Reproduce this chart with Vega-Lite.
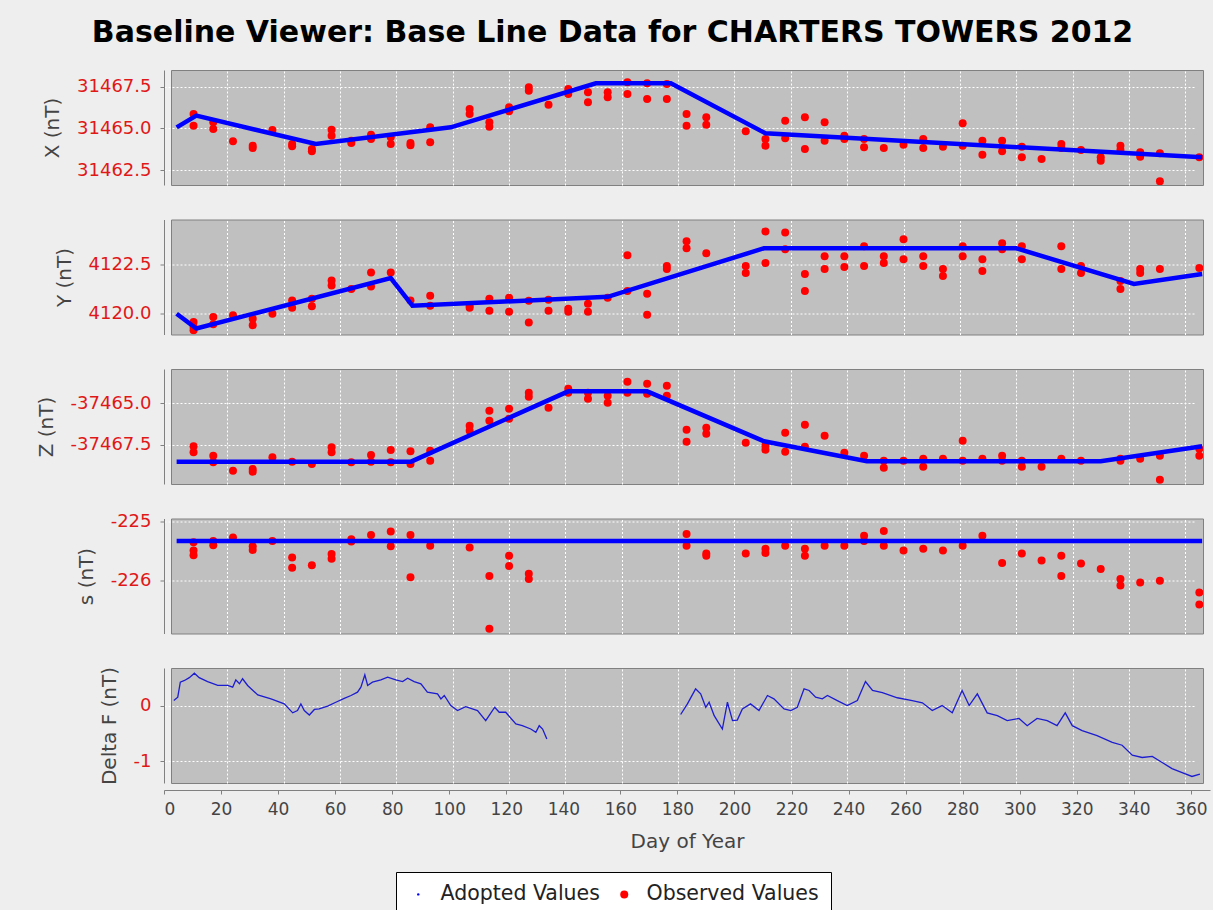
{
  "$schema": "https://vega.github.io/schema/vega-lite/v6.json",
  "padding": {"left": 35, "top": 17, "right": 10, "bottom": 0},
  "title": {"text": "Baseline Viewer: Base Line Data for CHARTERS TOWERS 2012", "fontSize": 30, "font": "DejaVu Sans", "fontWeight": "bold", "color": "#000000", "anchor": "middle", "offset": 22, "dx": -14},
  "spacing": 34.5,
  "bounds": "flush",
  "datasets": {
    "obs": [
      {"c":"X","d":8,"v":31465.86,"s":"Observed Values"},{"c":"X","d":8,"v":31465.16,"s":"Observed Values"},
      {"c":"X","d":15,"v":31465.36,"s":"Observed Values"},{"c":"X","d":15,"v":31464.96,"s":"Observed Values"},
      {"c":"X","d":22,"v":31464.22,"s":"Observed Values"},
      {"c":"X","d":29,"v":31463.96,"s":"Observed Values"},{"c":"X","d":29,"v":31463.82,"s":"Observed Values"},
      {"c":"X","d":36,"v":31464.9,"s":"Observed Values"},
      {"c":"X","d":43,"v":31464.06,"s":"Observed Values"},{"c":"X","d":43,"v":31463.92,"s":"Observed Values"},
      {"c":"X","d":50,"v":31463.76,"s":"Observed Values"},{"c":"X","d":50,"v":31463.62,"s":"Observed Values"},
      {"c":"X","d":57,"v":31464.92,"s":"Observed Values"},{"c":"X","d":57,"v":31464.56,"s":"Observed Values"},
      {"c":"X","d":64,"v":31464.26,"s":"Observed Values"},{"c":"X","d":64,"v":31464.12,"s":"Observed Values"},
      {"c":"X","d":71,"v":31464.62,"s":"Observed Values"},{"c":"X","d":71,"v":31464.36,"s":"Observed Values"},
      {"c":"X","d":78,"v":31464.46,"s":"Observed Values"},{"c":"X","d":78,"v":31464.06,"s":"Observed Values"},
      {"c":"X","d":85,"v":31464.12,"s":"Observed Values"},{"c":"X","d":85,"v":31463.98,"s":"Observed Values"},
      {"c":"X","d":92,"v":31465.06,"s":"Observed Values"},{"c":"X","d":92,"v":31464.16,"s":"Observed Values"},
      {"c":"X","d":106,"v":31466.16,"s":"Observed Values"},{"c":"X","d":106,"v":31465.86,"s":"Observed Values"},
      {"c":"X","d":113,"v":31465.36,"s":"Observed Values"},{"c":"X","d":113,"v":31465.1,"s":"Observed Values"},
      {"c":"X","d":120,"v":31466.26,"s":"Observed Values"},{"c":"X","d":120,"v":31466.02,"s":"Observed Values"},
      {"c":"X","d":127,"v":31467.46,"s":"Observed Values"},{"c":"X","d":127,"v":31467.26,"s":"Observed Values"},
      {"c":"X","d":134,"v":31466.42,"s":"Observed Values"},
      {"c":"X","d":141,"v":31467.36,"s":"Observed Values"},{"c":"X","d":141,"v":31467.06,"s":"Observed Values"},
      {"c":"X","d":148,"v":31467.16,"s":"Observed Values"},{"c":"X","d":148,"v":31466.56,"s":"Observed Values"},
      {"c":"X","d":155,"v":31467.16,"s":"Observed Values"},{"c":"X","d":155,"v":31466.86,"s":"Observed Values"},
      {"c":"X","d":162,"v":31467.76,"s":"Observed Values"},{"c":"X","d":162,"v":31467.06,"s":"Observed Values"},
      {"c":"X","d":169,"v":31467.7,"s":"Observed Values"},{"c":"X","d":169,"v":31466.76,"s":"Observed Values"},
      {"c":"X","d":176,"v":31467.66,"s":"Observed Values"},{"c":"X","d":176,"v":31466.76,"s":"Observed Values"},
      {"c":"X","d":183,"v":31465.86,"s":"Observed Values"},{"c":"X","d":183,"v":31465.16,"s":"Observed Values"},
      {"c":"X","d":190,"v":31465.66,"s":"Observed Values"},{"c":"X","d":190,"v":31465.22,"s":"Observed Values"},
      {"c":"X","d":204,"v":31464.82,"s":"Observed Values"},
      {"c":"X","d":211,"v":31464.36,"s":"Observed Values"},{"c":"X","d":211,"v":31463.96,"s":"Observed Values"},
      {"c":"X","d":218,"v":31465.46,"s":"Observed Values"},{"c":"X","d":218,"v":31464.4,"s":"Observed Values"},
      {"c":"X","d":225,"v":31465.66,"s":"Observed Values"},{"c":"X","d":225,"v":31463.76,"s":"Observed Values"},
      {"c":"X","d":232,"v":31465.36,"s":"Observed Values"},{"c":"X","d":232,"v":31464.26,"s":"Observed Values"},
      {"c":"X","d":239,"v":31464.56,"s":"Observed Values"},{"c":"X","d":239,"v":31464.36,"s":"Observed Values"},
      {"c":"X","d":246,"v":31464.36,"s":"Observed Values"},{"c":"X","d":246,"v":31463.86,"s":"Observed Values"},
      {"c":"X","d":253,"v":31463.82,"s":"Observed Values"},
      {"c":"X","d":260,"v":31464.02,"s":"Observed Values"},
      {"c":"X","d":267,"v":31464.36,"s":"Observed Values"},{"c":"X","d":267,"v":31463.82,"s":"Observed Values"},
      {"c":"X","d":274,"v":31463.9,"s":"Observed Values"},
      {"c":"X","d":281,"v":31465.3,"s":"Observed Values"},{"c":"X","d":281,"v":31463.96,"s":"Observed Values"},
      {"c":"X","d":288,"v":31464.26,"s":"Observed Values"},{"c":"X","d":288,"v":31463.42,"s":"Observed Values"},
      {"c":"X","d":295,"v":31464.26,"s":"Observed Values"},{"c":"X","d":295,"v":31463.62,"s":"Observed Values"},
      {"c":"X","d":302,"v":31463.9,"s":"Observed Values"},{"c":"X","d":302,"v":31463.26,"s":"Observed Values"},
      {"c":"X","d":309,"v":31463.16,"s":"Observed Values"},
      {"c":"X","d":316,"v":31464.06,"s":"Observed Values"},{"c":"X","d":316,"v":31463.82,"s":"Observed Values"},
      {"c":"X","d":323,"v":31463.7,"s":"Observed Values"},
      {"c":"X","d":330,"v":31463.26,"s":"Observed Values"},{"c":"X","d":330,"v":31463.06,"s":"Observed Values"},
      {"c":"X","d":337,"v":31463.96,"s":"Observed Values"},{"c":"X","d":337,"v":31463.7,"s":"Observed Values"},
      {"c":"X","d":344,"v":31463.56,"s":"Observed Values"},{"c":"X","d":344,"v":31463.3,"s":"Observed Values"},
      {"c":"X","d":351,"v":31463.5,"s":"Observed Values"},{"c":"X","d":351,"v":31461.82,"s":"Observed Values"},
      {"c":"X","d":365,"v":31463.26,"s":"Observed Values"},

      {"c":"Y","d":8,"v":4119.58,"s":"Observed Values"},{"c":"Y","d":8,"v":4119.33,"s":"Observed Values"},{"c":"Y","d":8,"v":4119.17,"s":"Observed Values"},
      {"c":"Y","d":15,"v":4119.83,"s":"Observed Values"},{"c":"Y","d":15,"v":4119.47,"s":"Observed Values"},
      {"c":"Y","d":22,"v":4119.92,"s":"Observed Values"},
      {"c":"Y","d":29,"v":4119.75,"s":"Observed Values"},{"c":"Y","d":29,"v":4119.42,"s":"Observed Values"},
      {"c":"Y","d":36,"v":4120.0,"s":"Observed Values"},
      {"c":"Y","d":43,"v":4120.67,"s":"Observed Values"},{"c":"Y","d":43,"v":4120.3,"s":"Observed Values"},
      {"c":"Y","d":50,"v":4120.75,"s":"Observed Values"},{"c":"Y","d":50,"v":4120.37,"s":"Observed Values"},
      {"c":"Y","d":57,"v":4121.67,"s":"Observed Values"},{"c":"Y","d":57,"v":4121.42,"s":"Observed Values"},
      {"c":"Y","d":64,"v":4121.25,"s":"Observed Values"},
      {"c":"Y","d":71,"v":4122.08,"s":"Observed Values"},{"c":"Y","d":71,"v":4121.37,"s":"Observed Values"},
      {"c":"Y","d":78,"v":4122.08,"s":"Observed Values"},
      {"c":"Y","d":85,"v":4120.67,"s":"Observed Values"},
      {"c":"Y","d":92,"v":4120.9,"s":"Observed Values"},{"c":"Y","d":92,"v":4120.4,"s":"Observed Values"},
      {"c":"Y","d":106,"v":4120.4,"s":"Observed Values"},{"c":"Y","d":106,"v":4120.3,"s":"Observed Values"},
      {"c":"Y","d":113,"v":4120.75,"s":"Observed Values"},{"c":"Y","d":113,"v":4120.15,"s":"Observed Values"},
      {"c":"Y","d":120,"v":4120.8,"s":"Observed Values"},{"c":"Y","d":120,"v":4120.1,"s":"Observed Values"},
      {"c":"Y","d":127,"v":4120.65,"s":"Observed Values"},{"c":"Y","d":127,"v":4119.55,"s":"Observed Values"},
      {"c":"Y","d":134,"v":4120.7,"s":"Observed Values"},{"c":"Y","d":134,"v":4120.15,"s":"Observed Values"},
      {"c":"Y","d":141,"v":4120.25,"s":"Observed Values"},{"c":"Y","d":141,"v":4120.1,"s":"Observed Values"},
      {"c":"Y","d":148,"v":4120.5,"s":"Observed Values"},{"c":"Y","d":148,"v":4120.1,"s":"Observed Values"},
      {"c":"Y","d":155,"v":4120.8,"s":"Observed Values"},
      {"c":"Y","d":162,"v":4122.95,"s":"Observed Values"},{"c":"Y","d":162,"v":4121.15,"s":"Observed Values"},
      {"c":"Y","d":169,"v":4121.0,"s":"Observed Values"},{"c":"Y","d":169,"v":4119.95,"s":"Observed Values"},
      {"c":"Y","d":176,"v":4122.4,"s":"Observed Values"},{"c":"Y","d":176,"v":4122.25,"s":"Observed Values"},
      {"c":"Y","d":183,"v":4123.65,"s":"Observed Values"},{"c":"Y","d":183,"v":4123.3,"s":"Observed Values"},
      {"c":"Y","d":190,"v":4123.05,"s":"Observed Values"},
      {"c":"Y","d":204,"v":4122.4,"s":"Observed Values"},{"c":"Y","d":204,"v":4122.05,"s":"Observed Values"},
      {"c":"Y","d":211,"v":4124.15,"s":"Observed Values"},{"c":"Y","d":211,"v":4122.55,"s":"Observed Values"},
      {"c":"Y","d":218,"v":4124.1,"s":"Observed Values"},{"c":"Y","d":218,"v":4123.25,"s":"Observed Values"},
      {"c":"Y","d":225,"v":4122.0,"s":"Observed Values"},{"c":"Y","d":225,"v":4121.15,"s":"Observed Values"},
      {"c":"Y","d":232,"v":4122.9,"s":"Observed Values"},{"c":"Y","d":232,"v":4122.25,"s":"Observed Values"},
      {"c":"Y","d":239,"v":4122.9,"s":"Observed Values"},{"c":"Y","d":239,"v":4122.35,"s":"Observed Values"},
      {"c":"Y","d":246,"v":4123.4,"s":"Observed Values"},{"c":"Y","d":246,"v":4122.4,"s":"Observed Values"},
      {"c":"Y","d":253,"v":4122.9,"s":"Observed Values"},{"c":"Y","d":253,"v":4122.55,"s":"Observed Values"},
      {"c":"Y","d":260,"v":4123.75,"s":"Observed Values"},{"c":"Y","d":260,"v":4122.75,"s":"Observed Values"},
      {"c":"Y","d":267,"v":4122.9,"s":"Observed Values"},{"c":"Y","d":267,"v":4122.4,"s":"Observed Values"},
      {"c":"Y","d":274,"v":4122.25,"s":"Observed Values"},{"c":"Y","d":274,"v":4121.9,"s":"Observed Values"},
      {"c":"Y","d":281,"v":4123.4,"s":"Observed Values"},{"c":"Y","d":281,"v":4122.9,"s":"Observed Values"},
      {"c":"Y","d":288,"v":4122.75,"s":"Observed Values"},{"c":"Y","d":288,"v":4122.15,"s":"Observed Values"},
      {"c":"Y","d":295,"v":4123.55,"s":"Observed Values"},{"c":"Y","d":295,"v":4123.25,"s":"Observed Values"},
      {"c":"Y","d":302,"v":4123.4,"s":"Observed Values"},{"c":"Y","d":302,"v":4122.75,"s":"Observed Values"},
      {"c":"Y","d":316,"v":4123.4,"s":"Observed Values"},{"c":"Y","d":316,"v":4122.25,"s":"Observed Values"},
      {"c":"Y","d":323,"v":4122.4,"s":"Observed Values"},{"c":"Y","d":323,"v":4122.05,"s":"Observed Values"},
      {"c":"Y","d":337,"v":4121.65,"s":"Observed Values"},{"c":"Y","d":337,"v":4121.25,"s":"Observed Values"},
      {"c":"Y","d":344,"v":4122.25,"s":"Observed Values"},{"c":"Y","d":344,"v":4122.05,"s":"Observed Values"},
      {"c":"Y","d":351,"v":4122.25,"s":"Observed Values"},
      {"c":"Y","d":365,"v":4122.3,"s":"Observed Values"},

      {"c":"Z","d":8,"v":-37467.6,"s":"Observed Values"},{"c":"Z","d":8,"v":-37467.96,"s":"Observed Values"},
      {"c":"Z","d":15,"v":-37468.16,"s":"Observed Values"},{"c":"Z","d":15,"v":-37468.56,"s":"Observed Values"},
      {"c":"Z","d":22,"v":-37469.06,"s":"Observed Values"},
      {"c":"Z","d":29,"v":-37468.96,"s":"Observed Values"},{"c":"Z","d":29,"v":-37469.12,"s":"Observed Values"},
      {"c":"Z","d":36,"v":-37468.26,"s":"Observed Values"},
      {"c":"Z","d":43,"v":-37468.52,"s":"Observed Values"},
      {"c":"Z","d":50,"v":-37468.66,"s":"Observed Values"},
      {"c":"Z","d":57,"v":-37467.66,"s":"Observed Values"},{"c":"Z","d":57,"v":-37467.96,"s":"Observed Values"},
      {"c":"Z","d":64,"v":-37468.56,"s":"Observed Values"},
      {"c":"Z","d":71,"v":-37468.12,"s":"Observed Values"},{"c":"Z","d":71,"v":-37468.52,"s":"Observed Values"},
      {"c":"Z","d":78,"v":-37467.82,"s":"Observed Values"},{"c":"Z","d":78,"v":-37468.56,"s":"Observed Values"},
      {"c":"Z","d":85,"v":-37467.9,"s":"Observed Values"},{"c":"Z","d":85,"v":-37468.66,"s":"Observed Values"},
      {"c":"Z","d":92,"v":-37467.86,"s":"Observed Values"},{"c":"Z","d":92,"v":-37468.46,"s":"Observed Values"},
      {"c":"Z","d":106,"v":-37466.36,"s":"Observed Values"},{"c":"Z","d":106,"v":-37466.66,"s":"Observed Values"},
      {"c":"Z","d":113,"v":-37465.46,"s":"Observed Values"},{"c":"Z","d":113,"v":-37466.06,"s":"Observed Values"},
      {"c":"Z","d":120,"v":-37465.34,"s":"Observed Values"},{"c":"Z","d":120,"v":-37465.94,"s":"Observed Values"},
      {"c":"Z","d":127,"v":-37464.38,"s":"Observed Values"},{"c":"Z","d":127,"v":-37464.62,"s":"Observed Values"},
      {"c":"Z","d":134,"v":-37465.28,"s":"Observed Values"},
      {"c":"Z","d":141,"v":-37464.14,"s":"Observed Values"},{"c":"Z","d":141,"v":-37464.38,"s":"Observed Values"},
      {"c":"Z","d":148,"v":-37464.38,"s":"Observed Values"},{"c":"Z","d":148,"v":-37464.74,"s":"Observed Values"},
      {"c":"Z","d":155,"v":-37464.56,"s":"Observed Values"},{"c":"Z","d":155,"v":-37464.98,"s":"Observed Values"},
      {"c":"Z","d":162,"v":-37463.72,"s":"Observed Values"},{"c":"Z","d":162,"v":-37464.38,"s":"Observed Values"},
      {"c":"Z","d":169,"v":-37463.84,"s":"Observed Values"},{"c":"Z","d":169,"v":-37464.44,"s":"Observed Values"},
      {"c":"Z","d":176,"v":-37463.96,"s":"Observed Values"},{"c":"Z","d":176,"v":-37464.56,"s":"Observed Values"},
      {"c":"Z","d":183,"v":-37466.6,"s":"Observed Values"},{"c":"Z","d":183,"v":-37467.32,"s":"Observed Values"},
      {"c":"Z","d":190,"v":-37466.48,"s":"Observed Values"},{"c":"Z","d":190,"v":-37466.84,"s":"Observed Values"},
      {"c":"Z","d":204,"v":-37467.38,"s":"Observed Values"},
      {"c":"Z","d":211,"v":-37467.56,"s":"Observed Values"},{"c":"Z","d":211,"v":-37467.8,"s":"Observed Values"},
      {"c":"Z","d":218,"v":-37466.78,"s":"Observed Values"},{"c":"Z","d":218,"v":-37467.92,"s":"Observed Values"},
      {"c":"Z","d":225,"v":-37466.3,"s":"Observed Values"},{"c":"Z","d":225,"v":-37467.62,"s":"Observed Values"},
      {"c":"Z","d":232,"v":-37466.96,"s":"Observed Values"},
      {"c":"Z","d":239,"v":-37467.98,"s":"Observed Values"},
      {"c":"Z","d":246,"v":-37468.16,"s":"Observed Values"},
      {"c":"Z","d":253,"v":-37468.46,"s":"Observed Values"},{"c":"Z","d":253,"v":-37468.88,"s":"Observed Values"},
      {"c":"Z","d":260,"v":-37468.46,"s":"Observed Values"},
      {"c":"Z","d":267,"v":-37468.34,"s":"Observed Values"},{"c":"Z","d":267,"v":-37468.82,"s":"Observed Values"},
      {"c":"Z","d":274,"v":-37468.34,"s":"Observed Values"},
      {"c":"Z","d":281,"v":-37467.26,"s":"Observed Values"},{"c":"Z","d":281,"v":-37468.46,"s":"Observed Values"},
      {"c":"Z","d":288,"v":-37468.34,"s":"Observed Values"},
      {"c":"Z","d":295,"v":-37468.16,"s":"Observed Values"},{"c":"Z","d":295,"v":-37468.46,"s":"Observed Values"},
      {"c":"Z","d":302,"v":-37468.46,"s":"Observed Values"},{"c":"Z","d":302,"v":-37468.82,"s":"Observed Values"},
      {"c":"Z","d":309,"v":-37468.82,"s":"Observed Values"},
      {"c":"Z","d":316,"v":-37468.34,"s":"Observed Values"},
      {"c":"Z","d":323,"v":-37468.46,"s":"Observed Values"},
      {"c":"Z","d":337,"v":-37468.34,"s":"Observed Values"},{"c":"Z","d":337,"v":-37468.46,"s":"Observed Values"},
      {"c":"Z","d":344,"v":-37468.34,"s":"Observed Values"},
      {"c":"Z","d":351,"v":-37468.16,"s":"Observed Values"},{"c":"Z","d":351,"v":-37469.6,"s":"Observed Values"},
      {"c":"Z","d":365,"v":-37467.74,"s":"Observed Values"},{"c":"Z","d":365,"v":-37468.16,"s":"Observed Values"},

      {"c":"S","d":8,"v":-225.35,"s":"Observed Values"},{"c":"S","d":8,"v":-225.49,"s":"Observed Values"},{"c":"S","d":8,"v":-225.57,"s":"Observed Values"},
      {"c":"S","d":15,"v":-225.33,"s":"Observed Values"},{"c":"S","d":15,"v":-225.4,"s":"Observed Values"},
      {"c":"S","d":22,"v":-225.27,"s":"Observed Values"},
      {"c":"S","d":29,"v":-225.42,"s":"Observed Values"},{"c":"S","d":29,"v":-225.48,"s":"Observed Values"},
      {"c":"S","d":36,"v":-225.33,"s":"Observed Values"},
      {"c":"S","d":43,"v":-225.61,"s":"Observed Values"},{"c":"S","d":43,"v":-225.78,"s":"Observed Values"},
      {"c":"S","d":50,"v":-225.74,"s":"Observed Values"},
      {"c":"S","d":57,"v":-225.55,"s":"Observed Values"},{"c":"S","d":57,"v":-225.63,"s":"Observed Values"},
      {"c":"S","d":64,"v":-225.3,"s":"Observed Values"},{"c":"S","d":64,"v":-225.34,"s":"Observed Values"},
      {"c":"S","d":71,"v":-225.23,"s":"Observed Values"},
      {"c":"S","d":78,"v":-225.17,"s":"Observed Values"},{"c":"S","d":78,"v":-225.42,"s":"Observed Values"},
      {"c":"S","d":85,"v":-225.23,"s":"Observed Values"},{"c":"S","d":85,"v":-225.94,"s":"Observed Values"},
      {"c":"S","d":92,"v":-225.41,"s":"Observed Values"},
      {"c":"S","d":106,"v":-225.44,"s":"Observed Values"},
      {"c":"S","d":113,"v":-225.92,"s":"Observed Values"},{"c":"S","d":113,"v":-226.81,"s":"Observed Values"},
      {"c":"S","d":120,"v":-225.58,"s":"Observed Values"},{"c":"S","d":120,"v":-225.75,"s":"Observed Values"},
      {"c":"S","d":127,"v":-225.88,"s":"Observed Values"},{"c":"S","d":127,"v":-225.97,"s":"Observed Values"},
      {"c":"S","d":183,"v":-225.21,"s":"Observed Values"},{"c":"S","d":183,"v":-225.41,"s":"Observed Values"},
      {"c":"S","d":190,"v":-225.54,"s":"Observed Values"},{"c":"S","d":190,"v":-225.58,"s":"Observed Values"},
      {"c":"S","d":204,"v":-225.54,"s":"Observed Values"},
      {"c":"S","d":211,"v":-225.46,"s":"Observed Values"},{"c":"S","d":211,"v":-225.53,"s":"Observed Values"},
      {"c":"S","d":218,"v":-225.41,"s":"Observed Values"},
      {"c":"S","d":225,"v":-225.46,"s":"Observed Values"},{"c":"S","d":225,"v":-225.58,"s":"Observed Values"},
      {"c":"S","d":232,"v":-225.41,"s":"Observed Values"},
      {"c":"S","d":239,"v":-225.41,"s":"Observed Values"},
      {"c":"S","d":246,"v":-225.24,"s":"Observed Values"},{"c":"S","d":246,"v":-225.33,"s":"Observed Values"},
      {"c":"S","d":253,"v":-225.16,"s":"Observed Values"},{"c":"S","d":253,"v":-225.41,"s":"Observed Values"},
      {"c":"S","d":260,"v":-225.49,"s":"Observed Values"},
      {"c":"S","d":267,"v":-225.46,"s":"Observed Values"},
      {"c":"S","d":274,"v":-225.49,"s":"Observed Values"},
      {"c":"S","d":281,"v":-225.41,"s":"Observed Values"},
      {"c":"S","d":288,"v":-225.24,"s":"Observed Values"},
      {"c":"S","d":295,"v":-225.7,"s":"Observed Values"},
      {"c":"S","d":302,"v":-225.54,"s":"Observed Values"},
      {"c":"S","d":309,"v":-225.66,"s":"Observed Values"},
      {"c":"S","d":316,"v":-225.58,"s":"Observed Values"},{"c":"S","d":316,"v":-225.92,"s":"Observed Values"},
      {"c":"S","d":323,"v":-225.71,"s":"Observed Values"},
      {"c":"S","d":330,"v":-225.8,"s":"Observed Values"},
      {"c":"S","d":337,"v":-225.97,"s":"Observed Values"},{"c":"S","d":337,"v":-226.08,"s":"Observed Values"},
      {"c":"S","d":344,"v":-226.03,"s":"Observed Values"},
      {"c":"S","d":351,"v":-226.0,"s":"Observed Values"},
      {"c":"S","d":365,"v":-226.2,"s":"Observed Values"},{"c":"S","d":365,"v":-226.4,"s":"Observed Values"}
    ],
    "adopted": [
      {"c":"X","d":2,"v":31465.06},{"c":"X","d":9,"v":31465.76},{"c":"X","d":51.4,"v":31464.06},{"c":"X","d":99.3,"v":31465.06},{"c":"X","d":150.8,"v":31467.7},{"c":"X","d":177.4,"v":31467.7},{"c":"X","d":211,"v":31464.7},{"c":"X","d":366,"v":31463.26},
      {"c":"Y","d":2,"v":4120.0},{"c":"Y","d":9,"v":4119.25},{"c":"Y","d":78,"v":4121.8},{"c":"Y","d":85.7,"v":4120.4},{"c":"Y","d":155,"v":4120.85},{"c":"Y","d":210.5,"v":4123.3},{"c":"Y","d":300,"v":4123.3},{"c":"Y","d":341.8,"v":4121.5},{"c":"Y","d":366,"v":4122.0},
      {"c":"Z","d":2,"v":-37468.52},{"c":"Z","d":85.2,"v":-37468.52},{"c":"Z","d":141,"v":-37464.3},{"c":"Z","d":169,"v":-37464.3},{"c":"Z","d":210.5,"v":-37467.3},{"c":"Z","d":247,"v":-37468.5},{"c":"Z","d":330,"v":-37468.5},{"c":"Z","d":366,"v":-37467.6},
      {"c":"S","d":2,"v":-225.33},{"c":"S","d":366,"v":-225.33}
    ],
    "deltaF": [
      {"g":1,"d":1,"v":0.09},{"g":1,"d":2.4,"v":0.15},{"g":1,"d":3.3,"v":0.42},{"g":1,"d":4.8,"v":0.45},{"g":1,"d":6.5,"v":0.5},{"g":1,"d":8.3,"v":0.58},{"g":1,"d":10,"v":0.5},{"g":1,"d":13,"v":0.43},{"g":1,"d":16.6,"v":0.36},{"g":1,"d":20.1,"v":0.36},{"g":1,"d":21.9,"v":0.33},{"g":1,"d":23,"v":0.46},{"g":1,"d":24.3,"v":0.39},{"g":1,"d":25.4,"v":0.48},{"g":1,"d":27.2,"v":0.36},{"g":1,"d":30.8,"v":0.19},{"g":1,"d":35.5,"v":0.12},{"g":1,"d":40.2,"v":0.03},{"g":1,"d":43.2,"v":-0.13},{"g":1,"d":44.9,"v":-0.09},{"g":1,"d":46.1,"v":0.03},{"g":1,"d":47.3,"v":-0.09},{"g":1,"d":49.1,"v":-0.17},{"g":1,"d":50.9,"v":-0.07},{"g":1,"d":52.6,"v":-0.06},{"g":1,"d":55.6,"v":-0.01},{"g":1,"d":58.5,"v":0.06},{"g":1,"d":61.5,"v":0.13},{"g":1,"d":63.9,"v":0.18},{"g":1,"d":66.2,"v":0.24},{"g":1,"d":67.4,"v":0.33},{"g":1,"d":68.8,"v":0.55},{"g":1,"d":69.8,"v":0.36},{"g":1,"d":71.5,"v":0.42},{"g":1,"d":74.5,"v":0.46},{"g":1,"d":76.9,"v":0.51},{"g":1,"d":79.8,"v":0.46},{"g":1,"d":82.2,"v":0.43},{"g":1,"d":84,"v":0.49},{"g":1,"d":86.3,"v":0.43},{"g":1,"d":88.7,"v":0.39},{"g":1,"d":91,"v":0.24},{"g":1,"d":94.6,"v":0.21},{"g":1,"d":95.8,"v":0.12},{"g":1,"d":97,"v":0.18},{"g":1,"d":99.3,"v":0.0},{"g":1,"d":101.7,"v":-0.09},{"g":1,"d":104.6,"v":-0.02},{"g":1,"d":108.8,"v":-0.09},{"g":1,"d":111.7,"v":-0.27},{"g":1,"d":112.9,"v":-0.18},{"g":1,"d":114.9,"v":-0.03},{"g":1,"d":116.5,"v":-0.12},{"g":1,"d":118.8,"v":-0.12},{"g":1,"d":122.4,"v":-0.33},{"g":1,"d":124.7,"v":-0.36},{"g":1,"d":127.7,"v":-0.42},{"g":1,"d":129.5,"v":-0.48},{"g":1,"d":130.7,"v":-0.36},{"g":1,"d":131.9,"v":-0.42},{"g":1,"d":133.4,"v":-0.6},
      {"g":2,"d":180.9,"v":-0.16},{"g":2,"d":183.3,"v":0.03},{"g":2,"d":186.2,"v":0.3},{"g":2,"d":188,"v":0.21},{"g":2,"d":189.8,"v":-0.03},{"g":2,"d":191,"v":0.06},{"g":2,"d":192.8,"v":-0.18},{"g":2,"d":195.7,"v":-0.42},{"g":2,"d":197.5,"v":0.06},{"g":2,"d":199.3,"v":-0.27},{"g":2,"d":201,"v":-0.26},{"g":2,"d":202.8,"v":-0.06},{"g":2,"d":205.7,"v":0.03},{"g":2,"d":208.7,"v":-0.09},{"g":2,"d":211.7,"v":0.18},{"g":2,"d":214,"v":0.12},{"g":2,"d":217.6,"v":-0.06},{"g":2,"d":220,"v":-0.09},{"g":2,"d":222.3,"v":-0.03},{"g":2,"d":224.7,"v":0.3},{"g":2,"d":226.5,"v":0.27},{"g":2,"d":228.8,"v":0.15},{"g":2,"d":231.2,"v":0.12},{"g":2,"d":233,"v":0.18},{"g":2,"d":236.5,"v":0.09},{"g":2,"d":240,"v":0.0},{"g":2,"d":243.6,"v":0.09},{"g":2,"d":246.5,"v":0.43},{"g":2,"d":249,"v":0.27},{"g":2,"d":252.5,"v":0.23},{"g":2,"d":257.8,"v":0.14},{"g":2,"d":263.1,"v":0.09},{"g":2,"d":266.7,"v":0.05},{"g":2,"d":270.2,"v":-0.09},{"g":2,"d":273.7,"v":0.0},{"g":2,"d":277.3,"v":-0.13},{"g":2,"d":280.8,"v":0.27},{"g":2,"d":283.3,"v":0.0},{"g":2,"d":286.2,"v":0.21},{"g":2,"d":289.7,"v":-0.13},{"g":2,"d":293.3,"v":-0.18},{"g":2,"d":296.8,"v":-0.27},{"g":2,"d":301,"v":-0.23},{"g":2,"d":303.9,"v":-0.36},{"g":2,"d":307.4,"v":-0.23},{"g":2,"d":311,"v":-0.27},{"g":2,"d":314.5,"v":-0.36},{"g":2,"d":317.4,"v":-0.13},{"g":2,"d":319.9,"v":-0.36},{"g":2,"d":323.4,"v":-0.45},{"g":2,"d":328.7,"v":-0.54},{"g":2,"d":334.1,"v":-0.66},{"g":2,"d":337.6,"v":-0.71},{"g":2,"d":341.2,"v":-0.89},{"g":2,"d":344.7,"v":-0.93},{"g":2,"d":348.3,"v":-0.91},{"g":2,"d":351.8,"v":-1.02},{"g":2,"d":355.3,"v":-1.13},{"g":2,"d":358.9,"v":-1.2},{"g":2,"d":362.4,"v":-1.27},{"g":2,"d":365.2,"v":-1.23}
    ]
  },
  "vconcat": [
    {
      "width": 1032, "height": 115,
      "layer": [
        {"data": {"name": "obs"}, "transform": [{"filter": "datum.c === 'X'"}],
         "mark": {"type": "point", "filled": true, "opacity": 1, "strokeWidth": 0, "clip": true},
         "encoding": {
           "x": {"field": "d", "type": "quantitative", "scale": {"domain": [0, 366.3], "nice": false, "zero": false}, "axis": {"orient": "top", "grid": true, "labels": false, "ticks": false, "domain": false, "title": null, "values": [20,40,60,80,100,120,140,160,180,200,220,240,260,280,300,320,340,360]}},
           "y": {"field": "v", "type": "quantitative", "scale": {"domain": [31461.6, 31468.5], "nice": false, "zero": false}, "axis": {"title": "X (nT)", "values": [31462.5, 31465, 31467.5], "labelExpr": "replace(format(datum.value, '.1f'), '\u2212', '-')"}},
           "color": {"field": "s", "type": "nominal", "scale": {"domain": ["Adopted Values", "Observed Values"], "range": ["#0000ff", "#ff0000"]}, "legend": {"title": null, "orient": "none", "legendX": 225, "legendY": 802, "direction": "horizontal", "strokeColor": "#000000", "fillColor": "#ffffff", "padding": 12, "labelFont": "DejaVu Sans", "labelFontSize": 20.5, "labelColor": "#222222", "labelLimit": 400, "symbolType": "circle", "symbolStrokeWidth": 0, "columnPadding": 14, "labelOffset": 12}},
           "size": {"field": "s", "type": "nominal", "scale": {"domain": ["Adopted Values", "Observed Values"], "range": [6, 64]}, "legend": {"title": null, "orient": "none", "legendX": 225, "legendY": 802, "direction": "horizontal", "strokeColor": "#000000", "fillColor": "#ffffff", "padding": 12, "labelFont": "DejaVu Sans", "labelFontSize": 20.5, "labelColor": "#222222", "labelLimit": 400, "symbolType": "circle", "symbolStrokeWidth": 0, "columnPadding": 14, "labelOffset": 12}}
         }},
        {"data": {"name": "adopted"}, "transform": [{"filter": "datum.c === 'X'"}],
         "mark": {"type": "line", "color": "#0000ff", "strokeWidth": 4.5, "clip": true},
         "encoding": {"x": {"field": "d", "type": "quantitative"}, "y": {"field": "v", "type": "quantitative"}}}
      ]
    },
    {
      "width": 1032, "height": 115,
      "layer": [
        {"data": {"name": "obs"}, "transform": [{"filter": "datum.c === 'Y'"}],
         "mark": {"type": "point", "filled": true, "opacity": 1, "strokeWidth": 0, "clip": true},
         "encoding": {
           "x": {"field": "d", "type": "quantitative", "scale": {"domain": [0, 366.3], "nice": false, "zero": false}, "axis": {"orient": "top", "grid": true, "labels": false, "ticks": false, "domain": false, "title": null, "values": [20,40,60,80,100,120,140,160,180,200,220,240,260,280,300,320,340,360]}},
           "y": {"field": "v", "type": "quantitative", "scale": {"domain": [4118.95, 4124.75], "nice": false, "zero": false}, "axis": {"title": "Y (nT)", "values": [4120, 4122.5], "labelExpr": "replace(format(datum.value, '.1f'), '\u2212', '-')"}},
           "color": {"field": "s", "type": "nominal"},
           "size": {"field": "s", "type": "nominal"}
         }},
        {"data": {"name": "adopted"}, "transform": [{"filter": "datum.c === 'Y'"}],
         "mark": {"type": "line", "color": "#0000ff", "strokeWidth": 4.5, "clip": true},
         "encoding": {"x": {"field": "d", "type": "quantitative"}, "y": {"field": "v", "type": "quantitative"}}}
      ]
    },
    {
      "width": 1032, "height": 115,
      "layer": [
        {"data": {"name": "obs"}, "transform": [{"filter": "datum.c === 'Z'"}],
         "mark": {"type": "point", "filled": true, "opacity": 1, "strokeWidth": 0, "clip": true},
         "encoding": {
           "x": {"field": "d", "type": "quantitative", "scale": {"domain": [0, 366.3], "nice": false, "zero": false}, "axis": {"orient": "top", "grid": true, "labels": false, "ticks": false, "domain": false, "title": null, "values": [20,40,60,80,100,120,140,160,180,200,220,240,260,280,300,320,340,360]}},
           "y": {"field": "v", "type": "quantitative", "scale": {"domain": [-37469.86, -37462.96], "nice": false, "zero": false}, "axis": {"title": "Z (nT)", "values": [-37467.5, -37465], "labelExpr": "replace(format(datum.value, '.1f'), '\u2212', '-')"}},
           "color": {"field": "s", "type": "nominal"},
           "size": {"field": "s", "type": "nominal"}
         }},
        {"data": {"name": "adopted"}, "transform": [{"filter": "datum.c === 'Z'"}],
         "mark": {"type": "line", "color": "#0000ff", "strokeWidth": 4.5, "clip": true},
         "encoding": {"x": {"field": "d", "type": "quantitative"}, "y": {"field": "v", "type": "quantitative"}}}
      ]
    },
    {
      "width": 1032, "height": 115,
      "layer": [
        {"data": {"name": "obs"}, "transform": [{"filter": "datum.c === 'S'"}],
         "mark": {"type": "point", "filled": true, "opacity": 1, "strokeWidth": 0, "clip": true},
         "encoding": {
           "x": {"field": "d", "type": "quantitative", "scale": {"domain": [0, 366.3], "nice": false, "zero": false}, "axis": {"orient": "top", "grid": true, "labels": false, "ticks": false, "domain": false, "title": null, "values": [20,40,60,80,100,120,140,160,180,200,220,240,260,280,300,320,340,360]}},
           "y": {"field": "v", "type": "quantitative", "scale": {"domain": [-226.89, -224.95], "nice": false, "zero": false}, "axis": {"title": "s (nT)", "values": [-226, -225], "labelExpr": "replace(format(datum.value, 'd'), '\u2212', '-')"}},
           "color": {"field": "s", "type": "nominal"},
           "size": {"field": "s", "type": "nominal"}
         }},
        {"data": {"name": "adopted"}, "transform": [{"filter": "datum.c === 'S'"}],
         "mark": {"type": "line", "color": "#0000ff", "strokeWidth": 4.5, "clip": true},
         "encoding": {"x": {"field": "d", "type": "quantitative"}, "y": {"field": "v", "type": "quantitative"}}}
      ]
    },
    {
      "width": 1032, "height": 115,
      "resolve": {"scale": {"x": "independent"}, "axis": {"x": "independent"}},
      "layer": [
        {"data": {"name": "deltaF"},
         "mark": {"type": "line", "color": "#1c1cd0", "strokeWidth": 1.3, "clip": true},
         "encoding": {
           "x": {"field": "d", "type": "quantitative", "scale": {"domain": [0, 366.3], "nice": false, "zero": false}, "axis": {"orient": "top", "grid": true, "labels": false, "ticks": false, "domain": false, "title": null, "values": [20,40,60,80,100,120,140,160,180,200,220,240,260,280,300,320,340,360]}},
           "y": {"field": "v", "type": "quantitative", "scale": {"domain": [-1.387, 0.673], "nice": false, "zero": false}, "axis": {"title": "Delta F (nT)", "values": [-1, 0], "labelExpr": "replace(format(datum.value, 'd'), '\u2212', '-')"}},
           "detail": {"field": "g", "type": "nominal"}
         }},
        {"data": {"name": "deltaF"},
         "mark": {"type": "point", "opacity": 0},
         "encoding": {
           "x": {"field": "d", "type": "quantitative", "scale": {"domain": [0, 366.7], "range": [-7, 1039], "nice": false, "zero": false}, "axis": {"orient": "bottom", "offset": 7, "title": "Day of Year", "values": [0,20,40,60,80,100,120,140,160,180,200,220,240,260,280,300,320,340,360], "grid": false, "labelColor": "#444444", "labelFontSize": 17, "labelPadding": 7, "titleColor": "#444444", "titleFontSize": 20, "titlePadding": 14}},
           "y": {"field": "v", "type": "quantitative"}
         }}
      ]
    }
  ],
  "config": {
    "background": "#eeeeee",
    "font": "DejaVu Sans",
    "view": {"fill": "#c0c0c0", "stroke": "#808080", "strokeWidth": 1},
    "axis": {"gridColor": "#ffffff", "gridDash": [2, 2], "gridOpacity": 1, "gridWidth": 1, "labelFont": "DejaVu Sans", "titleFont": "DejaVu Sans", "titleFontWeight": "normal", "domainColor": "#808080", "tickColor": "#808080", "tickSize": 4},
    "axisY": {"offset": 7, "grid": true, "labelColor": "#e01818", "labelFontSize": 18, "labelPadding": 9, "titleColor": "#444444", "titleFontSize": 20, "titlePadding": 14}
  }
}
